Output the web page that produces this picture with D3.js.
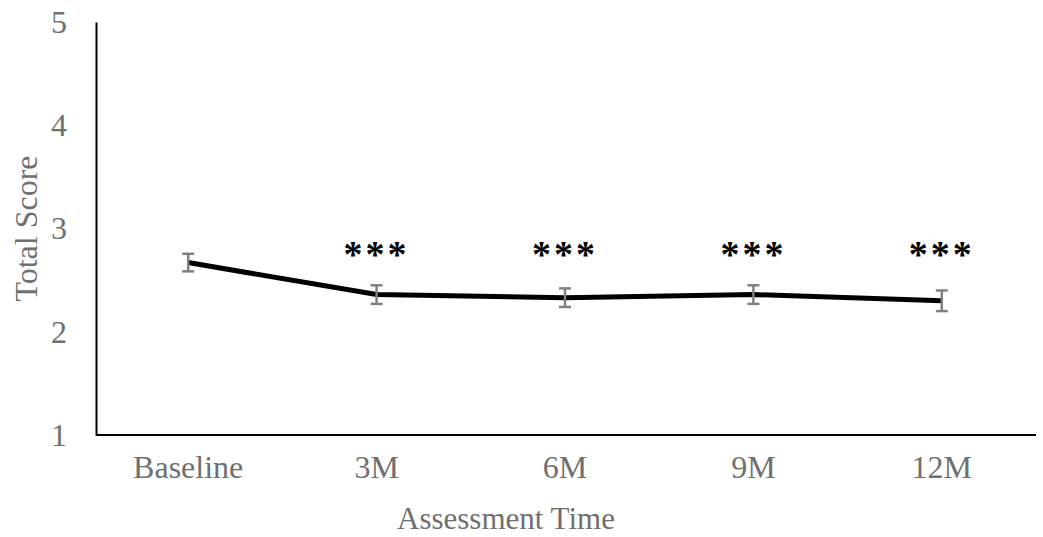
<!DOCTYPE html>
<html>
<head>
<meta charset="utf-8">
<script src="https://cdn.jsdelivr.net/npm/d3@7"></script>
<style>
  body { margin: 0; background: #fff; }
  text { font-family: "Liberation Serif", "Times New Roman", serif; }
</style>
</head>
<body>
<div id="draw"></div>
<script>
// data
let categories = ['Baseline', '3M', '6M', '9M', '12M'];
let means = [2.67, 2.36, 2.33, 2.36, 2.30];
let errors = [0.085, 0.09, 0.09, 0.09, 0.10];
let stars = ['', '***', '***', '***', '***'];
let y_ticks = [1, 2, 3, 4, 5];

// parameters
let width = 1043, height = 537;
let margin = { top: 22, left: 96, bottom: 102, right: 7 };
let label_color = '#6f6f6f';

let svg = d3.select('#draw').append('svg')
    .attr('width', width)
    .attr('height', height);

let x = d3.scaleBand()
    .domain(categories)
    .range([margin.left - 2, width - margin.right]);

let y = d3.scaleLinear()
    .domain([1, 5])
    .range([height - margin.bottom, margin.top]);

// axes
let x_axis = svg.append('g')
    .attr('transform', 'translate(0,' + y(1) + ')')
    .call(d3.axisBottom(x).tickSize(0).tickPadding(20));
x_axis.select('.domain').attr('d', 'M' + margin.left + ',0H' + (width - margin.right))
    .attr('stroke', '#000').attr('stroke-width', 2);
x_axis.selectAll('text').style('font-size', '32px').style('fill', label_color);

let y_axis = svg.append('g')
    .attr('transform', 'translate(' + margin.left + ',0)')
    .call(d3.axisLeft(y).tickValues(y_ticks).tickFormat(d3.format('d')).tickSize(0).tickPadding(29));
y_axis.select('.domain').attr('stroke', '#000').attr('stroke-width', 2);
y_axis.selectAll('text').style('font-size', '32px').style('fill', label_color);
x_axis.attr('font-family', null);
y_axis.attr('font-family', null);

// axis titles
svg.append('text')
    .attr('transform', 'translate(37,' + y(3) + ') rotate(-90)')
    .attr('text-anchor', 'middle')
    .style('font-size', '32px')
    .style('fill', label_color)
    .text('Total Score');

svg.append('text')
    .attr('x', 506)
    .attr('y', 529)
    .attr('text-anchor', 'middle')
    .style('font-size', '31px')
    .style('fill', label_color)
    .text('Assessment Time');

let cx = d => x(d) + x.bandwidth() / 2;

// line
let line = d3.line()
    .x((d, i) => cx(categories[i]))
    .y(d => y(d));

svg.append('path')
    .datum(means)
    .attr('d', line)
    .attr('fill', 'none')
    .attr('stroke', '#000')
    .attr('stroke-width', 5);

// error bars
let eb = svg.append('g').selectAll('g')
    .data(means)
    .enter()
    .append('g')
    .attr('stroke', '#808080')
    .attr('stroke-width', 2.5);

eb.append('line')
    .attr('x1', (d, i) => cx(categories[i]))
    .attr('x2', (d, i) => cx(categories[i]))
    .attr('y1', (d, i) => y(d + errors[i]))
    .attr('y2', (d, i) => y(d - errors[i]));
[1, -1].forEach(s => {
    eb.append('line')
        .attr('x1', (d, i) => cx(categories[i]) - 6)
        .attr('x2', (d, i) => cx(categories[i]) + 6)
        .attr('y1', (d, i) => y(d + s * errors[i]))
        .attr('y2', (d, i) => y(d + s * errors[i]));
});

// significance stars
svg.append('g').selectAll('text')
    .data(stars)
    .enter()
    .append('text')
    .attr('x', (d, i) => cx(categories[i]))
    .attr('y', 267)
    .attr('text-anchor', 'middle')
    .style('font-size', '38px')
    .style('font-weight', 'bold')
    .style('letter-spacing', '3px')
    .style('fill', '#000')
    .text(d => d);
</script>
</body>
</html>
